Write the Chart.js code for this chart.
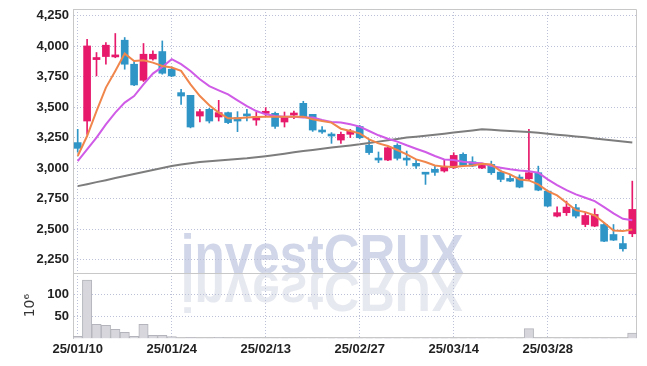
<!DOCTYPE html>
<html><head><meta charset="utf-8">
<script src="https://cdn.jsdelivr.net/npm/chart.js@4.4.1/dist/chart.umd.min.js"></script>
<style>html,body{margin:0;padding:0;background:#fff}#wrap{width:647px;height:366px;position:relative}</style>
</head><body><div id="wrap"><canvas id="c"></canvas></div>
<script>
// ---------- data ----------
const dates = ['25/01/10','25/01/13','25/01/14','25/01/15','25/01/16','25/01/17','25/01/20','25/01/21','25/01/22','25/01/23',
 '25/01/24','25/01/31','25/02/03','25/02/04','25/02/05','25/02/06','25/02/07','25/02/10','25/02/11','25/02/12',
 '25/02/13','25/02/14','25/02/17','25/02/18','25/02/19','25/02/20','25/02/21','25/02/24','25/02/25','25/02/26',
 '25/02/27','25/02/28','25/03/04','25/03/05','25/03/06','25/03/07','25/03/10','25/03/11','25/03/12','25/03/13',
 '25/03/14','25/03/17','25/03/18','25/03/19','25/03/20','25/03/21','25/03/24','25/03/25','25/03/26','25/03/27',
 '25/03/28','25/03/31','25/04/01','25/04/02','25/04/03','25/04/04','25/04/07','25/04/08','25/04/09','25/04/10'];
const openP  = [3209,3386,3890,3915,3912,4049,3852,3720,3895,3956,3811,3619,3597,3427,3482,3419,3455,3414,3435,3394,
 3449,3449,3378,3435,3531,3441,3310,3277,3230,3277,3341,3187,3080,3066,3187,3074,3039,2956,2990,2976,
 3003,3113,3052,3000,3030,2967,2915,2926,2912,2962,2811,2606,2634,2675,2537,2524,2537,2455,2381,2461];
const highP  = [3318,4057,3948,4030,4104,4071,3874,4022,3961,4043,3830,3646,3597,3482,3490,3556,3460,3463,3482,3457,
 3496,3460,3460,3468,3548,3441,3340,3291,3296,3318,3351,3236,3132,3170,3200,3140,3066,2962,3017,3066,
 3126,3126,3093,3030,3057,2984,2940,2945,3318,3016,2816,2683,2729,2702,2634,2666,2546,2537,2441,2893];
const lowP   = [3130,3277,3756,3852,3905,3811,3676,3710,3885,3770,3750,3523,3330,3378,3370,3386,3365,3299,3386,3351,
 3422,3325,3337,3405,3414,3301,3285,3203,3203,3250,3240,3113,3045,3060,3066,3022,2998,2866,2940,2967,
 2995,3014,3012,2995,2948,2888,2888,2838,2902,2814,2683,2600,2611,2592,2519,2519,2397,2406,2318,2437];
const closeP = [3162,4002,3907,4008,3926,3852,3682,3934,3934,3778,3756,3591,3337,3463,3386,3455,3373,3386,3428,3422,
 3466,3342,3422,3452,3422,3312,3296,3263,3277,3304,3249,3127,3066,3167,3080,3066,3017,2950,2965,3012,
 3104,3022,3017,3022,2962,2907,2893,2844,2962,2819,2688,2634,2680,2606,2611,2620,2400,2409,2338,2661];
const ma5  = [3099,3263,3468,3660,3797,3939,3879,3885,3865,3838,3825,3797,3687,3591,3515,3455,3408,3408,3414,3420,
 3422,3422,3422,3422,3422,3400,3386,3373,3323,3304,3285,3236,3203,3181,3148,3113,3071,3050,3022,3012,
 3008,3017,3022,3036,3030,2975,2948,2907,2899,2866,2811,2776,2716,2655,2639,2611,2552,2488,2483,2497];
const ma10 = [3057,3154,3250,3359,3455,3537,3591,3687,3775,3830,3893,3852,3797,3728,3673,3638,3605,3556,3509,3468,
 3441,3427,3422,3422,3414,3414,3394,3378,3373,3359,3340,3304,3269,3241,3217,3187,3159,3132,3099,3071,
 3066,3052,3044,3039,3017,3003,2990,2981,2975,2962,2907,2861,2819,2784,2757,2729,2680,2628,2584,2573];
const ma60 = [2852,2868,2885,2901,2918,2935,2951,2968,2984,3000,3017,3029,3040,3050,3056,3062,3068,3074,3080,3088,
 3097,3107,3118,3129,3140,3149,3158,3168,3177,3186,3195,3206,3217,3228,3239,3250,3258,3266,3274,3282,
 3291,3300,3309,3318,3314,3309,3305,3300,3296,3289,3282,3274,3267,3260,3252,3243,3235,3226,3218,3209];
const volume = [4.5,132,32,29.5,20.5,14,4.5,32,7,7,4,1.0,2.0,0.8,0.8,2.5,1.2,1.0,1.0,1.2,
 1.0,1.0,0.9,0.9,1.0,0.8,0.5,0.4,0.4,0.4,0.4,0.3,0.3,0.3,0.3,0.3,0.3,0.3,0.3,0.3,
 0.3,0.3,0.3,0.3,0.3,0.3,0.3,0.4,22,1.5,0.6,0.4,0.4,0.4,0.4,0.4,0.4,0.4,0.5,12];
const priceTicks = [2250,2500,2750,3000,3250,3500,3750,4000,4250];
const volumeTicks = [50,100];
const labelEvery = 10;

// ---------- style ----------
const UP = '#E6196B', DOWN = '#2F95C7';
const GRID = '#bcc1d8', FRAME = '#c8c8c8';
const FONT = "'Liberation Sans',Arial,sans-serif";

const isUp = openP.map((o,i)=> closeP[i] >= o);
const candleCol = isUp.map(u => u ? UP : DOWN);
const wickData = lowP.map((l,i)=>[l, highP[i]]);
const bodyData = openP.map((o,i)=>[Math.min(o,closeP[i]), Math.max(o,closeP[i])]);

const deco = {
  id: 'deco',
  beforeDraw(chart){
    const {ctx, chartArea:a, scales} = chart;
    const base = scales.yv.top;
    const cx = a.left + (a.right - a.left) * 0.442;
    const text = 'investCRUX';
    ctx.save();
    ctx.font = "bold 55px 'Liberation Sans', Arial, sans-serif";
    const w = ctx.measureText(text).width;
    ctx.textAlign = 'center'; ctx.textBaseline = 'alphabetic';
    ctx.translate(cx, base);
    ctx.scale(283 / w, 1);
    ctx.fillStyle = '#d1d7e8';
    ctx.fillText(text, 0, 0);
    ctx.scale(1, -1);
    ctx.fillStyle = '#e7e9f0';
    ctx.fillText(text, 0, 0);
    ctx.restore();
  },
  beforeDatasetsDraw(chart){
    const {ctx, chartArea:a, scales} = chart;
    ctx.save();
    ctx.strokeStyle = FRAME; ctx.lineWidth = 1;
    ctx.beginPath();
    const L = Math.round(a.left)+0.5, R = Math.round(a.right)-0.5, T = Math.round(a.top)+0.5, B = Math.round(a.bottom)-0.5;
    const S = Math.round(scales.yv.top)+0.5;
    ctx.moveTo(L,T); ctx.lineTo(R,T); ctx.lineTo(R,B); ctx.lineTo(L,B); ctx.lineTo(L,T);
    ctx.moveTo(L,S); ctx.lineTo(R,S);
    ctx.stroke();
    ctx.restore();
  }
};

const tickFont = {family: FONT, size: 13, weight: 'bold'};
const noPadV = s => { s.width = 73; s.paddingTop = 0; s.paddingBottom = 0; };

new Chart(document.getElementById('c'), {
  data: {
    labels: dates,
    datasets: [
      {type:'line', label:'MA5', data: ma5, yAxisID:'y', borderColor:'#F0864C', borderWidth:2, pointRadius:0, tension:0, order:0},
      {type:'line', label:'MA10', data: ma10, yAxisID:'y', borderColor:'#CF5BE6', borderWidth:2, pointRadius:0, tension:0, order:0},
      {type:'line', label:'MA60', data: ma60, yAxisID:'y', borderColor:'#7d7d7d', borderWidth:2, pointRadius:0, tension:0, order:0},
      {type:'bar', label:'body', data: bodyData, yAxisID:'y', backgroundColor: candleCol, borderWidth:0, barThickness:7, minBarLength:2, grouped:false, order:1},
      {type:'bar', label:'wick', data: wickData, yAxisID:'y', backgroundColor: candleCol, borderWidth:0, barThickness:1, grouped:false, order:2},
      {type:'bar', label:'volume', data: volume, yAxisID:'yv', backgroundColor:'#d6d6dc', borderColor:'#b4b4bc', borderWidth:{top:1,left:1,right:1,bottom:0}, barPercentage:1, categoryPercentage:1, grouped:false, order:3}
    ]
  },
  options: {
    responsive: true, maintainAspectRatio: false, animation: false,
    layout: {padding: {top: 9, right: 10, left: 0, bottom: 6}},
    plugins: {legend: {display:false}, tooltip: {enabled:false}},
    scales: {
      x: {
        type:'category', offset:true,
        afterFit: s => { s.paddingLeft = 0; s.paddingRight = 0; },
        grid: {offset:false, drawTicks:false, color: c => (c.index % labelEvery === 0 ? GRID : 'rgba(0,0,0,0)')},
        border: {display:false, dash:[1,2]},
        ticks: {autoSkip:false, maxRotation:0, padding:3, color:'#222', font:{family:FONT, size:13, weight:'bold'},
          callback: (v,i) => (i % labelEvery === 0 ? dates[i] : '')}
      },
      y: {
        position:'left', stack:'main', stackWeight: 262, weight: 1,
        min: 2140, max: 4305,
        afterBuildTicks: s => { s.ticks = priceTicks.map(v => ({value:v})); },
        afterFit: noPadV,
        grid: {color: GRID, drawTicks:false},
        border: {display:true, color: FRAME, dash:[1,2]},
        ticks: {autoSkip:false, padding:4, color:'#222', font: tickFont, callback: v => Number(v).toLocaleString('en-US')}
      },
      yv: {
        position:'left', stack:'main', stackWeight: 65, weight: 0,
        min: 0, max: 148,
        afterBuildTicks: s => { s.ticks = volumeTicks.map(v => ({value:v})); },
        afterFit: noPadV,
        grid: {color: GRID, drawTicks:false},
        border: {display:true, color: FRAME, dash:[1,2]},
        title: {display:true, text:'10⁶', color:'#333', font:{family:"'DejaVu Sans',sans-serif", size:14}, padding:{top:22, bottom:0}},
        ticks: {autoSkip:false, padding:4, color:'#222', font: tickFont}
      }
    }
  },
  plugins: [deco]
});
</script>
</body></html>
